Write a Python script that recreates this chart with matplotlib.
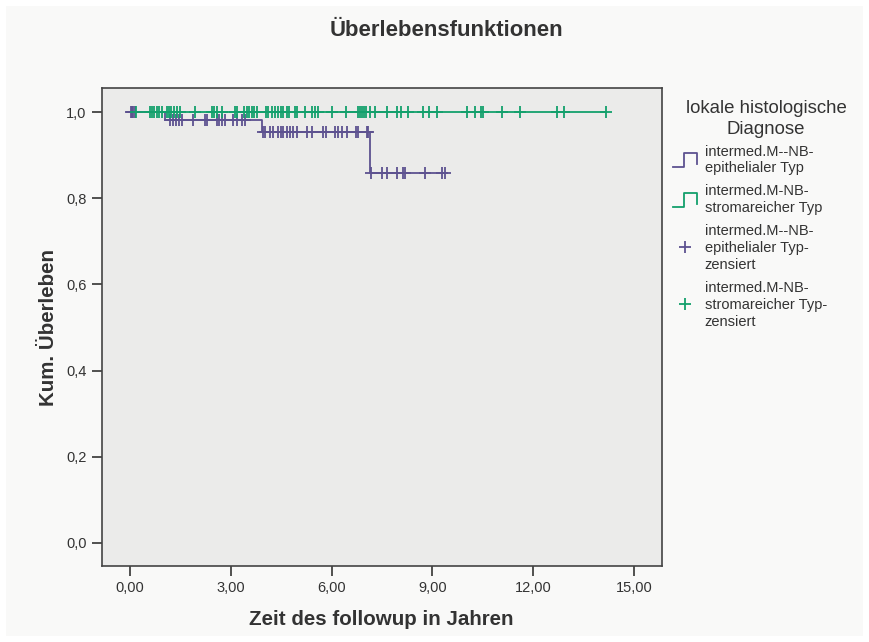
import numpy as np
import matplotlib.pyplot as plt
from matplotlib.legend_handler import HandlerBase
from matplotlib.lines import Line2D
from matplotlib.patches import Rectangle

plt.rcParams['font.family'] = ['Liberation Sans', 'DejaVu Sans']

## Kaplan-Meier data (time in years)
# epithelial type: event times and survival after each event
epi_events = [1.04, 3.92, 7.14]
epi_surv = [0.981, 0.955, 0.860]
epi_censored = [0.02, 0.06, 0.10, 0.14,
                1.19, 1.27, 1.37, 1.47, 1.54, 1.87, 2.23, 2.30, 2.58, 2.66,
                2.73, 2.83, 3.06, 3.18, 3.32, 3.42,
                3.97, 4.02, 4.17, 4.27, 4.41, 4.51, 4.56, 4.66, 4.76, 4.86,
                4.96, 5.26, 5.41, 5.75, 5.83, 6.10, 6.20, 6.30, 6.45, 6.73,
                6.80, 7.04, 7.09,
                7.16, 7.49, 7.64, 7.94, 8.13, 8.18, 8.78, 9.28, 9.38]

# stroma-rich type: no events, everything censored
strom_events = []
strom_surv = []
strom_censored = [0.18, 0.60, 0.65, 0.71, 0.80, 0.86, 0.95, 1.10, 1.16, 1.22,
                  1.31, 1.40, 1.49, 1.93, 2.44, 2.50, 2.59, 2.74, 3.13, 3.18,
                  3.39, 3.48, 3.54, 3.63, 3.69, 3.78, 4.05, 4.11, 4.23, 4.32,
                  4.40, 4.49, 4.55, 4.67, 4.73, 4.91, 4.97, 5.21, 5.42, 5.51,
                  5.60, 6.01, 6.43, 6.79, 6.85, 6.90, 6.96, 7.02, 7.14, 7.29,
                  7.65, 7.95, 8.07, 8.27, 8.72, 8.90, 9.14, 10.03, 10.27, 10.45,
                  10.51, 11.07, 11.61, 12.71, 12.92, 14.17]

labels = ['intermed.M--NB-\nepithelialer Typ',
          'intermed.M-NB-\nstromareicher Typ',
          'intermed.M--NB-\nepithelialer Typ-\nzensiert',
          'intermed.M-NB-\nstromareicher Typ-\nzensiert']

purple = '#5d5290'
green = '#13a06c'


def km_curve(events, surv, censored):
    levels = np.array([1.0] + surv)
    t_end = max(censored + events)
    xs = np.array([0.0] + events + [t_end])
    ys = np.append(levels, levels[-1])
    cy = levels[np.searchsorted(events, censored, side='right')]
    return xs, ys, np.array(censored), cy


class StepHandler(HandlerBase):
    # small step-shaped icon for the curve entries
    def create_artists(self, legend, orig_handle, xd, yd, w, h, fontsize, trans):
        xs = np.array([0.0, 0.45, 0.45, 1.0, 1.0]) * w - xd
        ys = np.array([0.05, 0.05, 1.0, 1.0, 0.25]) * h - yd
        ln = Line2D(xs, ys, color=orig_handle.get_color(), lw=1.3, transform=trans)
        return [ln]


fig = plt.figure(figsize=(8.69, 6.42), dpi=100, facecolor='white')
fig.patches.append(Rectangle((6 / 869, 6 / 642), 857 / 869, 630 / 642,
                             transform=fig.transFigure, facecolor='#f9f9f8',
                             edgecolor='none', zorder=-5))
ax = fig.add_axes([0.117, 0.1188, 0.6444, 0.7437])
ax.set_facecolor('#ebebea')

ex, ey, ecx, ecy = km_curve(epi_events, epi_surv, epi_censored)
sx, sy, scx, scy = km_curve(strom_events, strom_surv, strom_censored)

h1, = ax.step(ex, ey, where='post', color=purple, lw=1.3)
h2, = ax.step(sx, sy, where='post', color=green, lw=1.3)
h3, = ax.plot(ecx, ecy, ls='none', marker='+', ms=8, mew=1.3, color=purple)
h4, = ax.plot(scx, scy, ls='none', marker='+', ms=8, mew=1.3, color=green)

ax.set_xlim(-0.84, 15.82)
ax.set_ylim(-0.0534, 1.0558)
ax.set_xticks([0, 3, 6, 9, 12, 15])
ax.set_xticklabels(['0,00', '3,00', '6,00', '9,00', '12,00', '15,00'])
ax.set_yticks([0, 0.2, 0.4, 0.6, 0.8, 1.0])
ax.set_yticklabels(['0,0', '0,2', '0,4', '0,6', '0,8', '1,0'])
ax.tick_params(length=7, width=1.2, color='#333333', labelsize=10.5,
               labelcolor='#333333', pad=4)
for sp in ax.spines.values():
    sp.set_color('#444444')
    sp.set_linewidth(1.2)

ax.set_xlabel('Zeit des followup in Jahren', fontsize=14.8, fontweight='bold',
              color='#333333', labelpad=11)
ax.set_ylabel('Kum. Überleben', fontsize=14.8, fontweight='bold',
              color='#333333', labelpad=6)
fig.text(446 / 869, 1 - 30 / 642, 'Überlebensfunktionen', ha='center',
         va='center', fontsize=15.9, fontweight='bold', color='#333333')

# legend heading
fig.text(766 / 869, 1 - 119 / 642, 'lokale histologische\nDiagnose',
         ha='center', va='center', multialignment='center', fontsize=13.4,
         linespacing=1.28, color='#333333')

leg = fig.legend([h1, h2, h3, h4], labels, loc='upper left',
                 bbox_to_anchor=(0.768, 0.784), frameon=False, fontsize=10.5,
                 handlelength=1.6, handleheight=1.2, handletextpad=0.55,
                 labelspacing=0.62, borderaxespad=0,
                 handler_map={h1: StepHandler(), h2: StepHandler()})
for t in leg.get_texts():
    t.set_color('#333333')
    t.set_linespacing(1.26)

fig.savefig('out.png', dpi=100, facecolor=fig.get_facecolor())
